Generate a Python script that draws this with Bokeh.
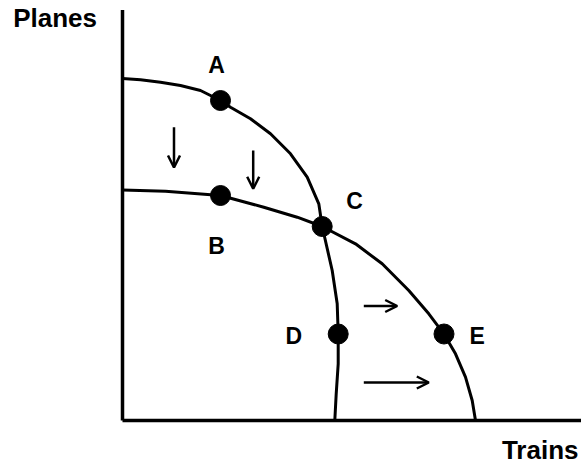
from bokeh.plotting import figure
from bokeh.models import Range1d, ColumnDataSource, Arrow, OpenHead
from bokeh.core.properties import value
from bokeh.embed import file_html
from bokeh.resources import INLINE

# ---- data (Trains on x, Planes on y) ----
ppf1_trains = [0, 18, 38, 58, 78, 98, 108, 128, 148, 168, 184.7, 196.3, 199.7, 209.7, 214.7, 215.7, 215.7, 213.7, 212.3]
ppf1_planes = [342, 340.7, 338.3, 335, 330, 320, 313.3, 301.7, 286.7, 266.7, 243.3, 216.7, 194, 150, 116.7, 86.7, 56.7, 26.7, 0]

ppf2_trains = [0, 43, 98, 141.3, 174.7, 199.7, 233, 259.7, 286.3, 306.3, 321.3, 333, 343, 349.7, 353]
ppf2_planes = [230.5, 229.3, 225, 213.3, 203.3, 194, 176.7, 156.7, 130, 106.7, 86.7, 66.7, 43.3, 20, 0]

point_names = ["A", "B", "C", "D", "E"]
point_trains = [98, 98, 199.7, 215.7, 321.5]
point_planes = [320, 225, 194, 86.5, 86.5]
label_trains = [94, 94, 232, 171.3, 354.7]
label_planes = [356, 175, 219.3, 85, 85]

arrow_x0 = [51.5, 130.7, 241.3, 241.3]
arrow_y0 = [293.3, 270, 114.5, 38]
arrow_x1 = [51.5, 130.7, 274.7, 306.3]
arrow_y1 = [253, 231.7, 114.5, 38]

axis_top = 410.5
axis_right = 460

x_title = "Trains"
y_title = "Planes"

# ---- figure ----
p = figure(width=581, height=464, x_range=Range1d(-122, 459), y_range=Range1d(-44, 420),
           output_backend="svg", toolbar_location=None, min_border=0)
p.axis.visible = False
p.xgrid.visible = False
p.ygrid.visible = False
p.outline_line_color = None
p.background_fill_color = "white"
p.border_fill_color = "white"

# axes
p.line([0, 0], [0, axis_top], line_color="black", line_width=3.5)
p.line([0, axis_right], [0, 0], line_color="black", line_width=3.5)

# curves
p.line(ppf1_trains, ppf1_planes, line_color="black", line_width=3, line_join="round")
p.line(ppf2_trains, ppf2_planes, line_color="black", line_width=3, line_join="round")

# points
p.scatter(point_trains, point_planes, marker="circle", size=20, fill_color="black", line_color="black")

# labels
font = value("Liberation Sans")
p.text(x=label_trains, y=label_planes, text=point_names, text_font=font, text_font_style="bold",
       text_font_size="23px", text_align="center", text_baseline="middle", text_color="black")

p.text(x=[-109.3], y=[402.5], text=[y_title], text_font=font, text_font_style="bold",
       text_font_size="26px", text_align="left", text_baseline="middle", text_color="black")
p.text(x=[456], y=[-29], text=[x_title], text_font=font, text_font_style="bold",
       text_font_size="26px", text_align="right", text_baseline="middle", text_color="black")

# arrows
src = ColumnDataSource(dict(x0=arrow_x0, y0=arrow_y0, x1=arrow_x1, y1=arrow_y1))
p.add_layout(Arrow(source=src, x_start="x0", y_start="y0", x_end="x1", y_end="y1",
                   line_color="black", line_width=2.5,
                   end=OpenHead(size=12, line_width=2.5, line_color="black")))

open("out.html", "w").write(file_html(p, INLINE))
